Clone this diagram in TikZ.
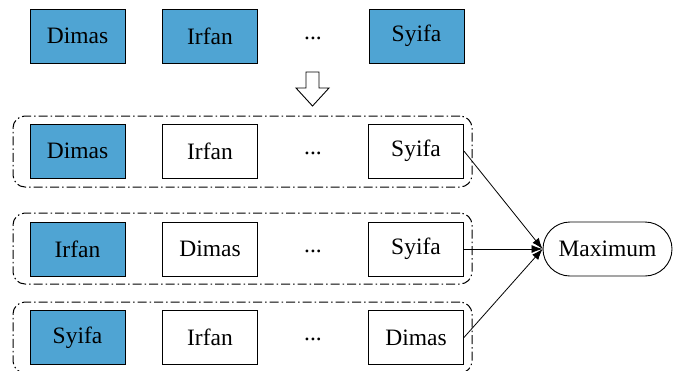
\documentclass[tikz,border=0pt]{standalone}
\usepackage{fontspec}
\setmainfont{Liberation Serif}
\usetikzlibrary{arrows.meta}
\definecolor{boxblue}{HTML}{4FA4D3}
\begin{document}
\begin{tikzpicture}[x=1pt,y=-1pt,
  cell/.style={draw=black, line width=0.9pt, minimum width=95pt, minimum height=54pt, inner sep=0pt, font=\fontsize{23.5}{28}\selectfont},
  hl/.style={cell, fill=boxblue},
  plain/.style={cell, fill=white},
  dots/.style={font=\fontsize{23.5}{28}\selectfont, inner sep=0pt},
  group/.style={draw=black, line width=1pt, dash pattern=on 9pt off 3pt on 1.5pt off 3pt, rounded corners=12pt, minimum width=459pt, minimum height=71pt, inner sep=0pt},
  conn/.style={line width=0.8pt, -{Latex[length=11pt,width=8pt]}},
  maxnode/.style={draw=black, line width=0.9pt, rounded corners=27pt, minimum width=129pt, minimum height=54pt, inner sep=0pt, font=\fontsize{23.5}{28}\selectfont},
  blockarrow/.style={draw=black, line width=0.9pt, fill=white, line join=miter}
]
\useasboundingbox (0,0) rectangle (674,370);

% containers
\node[group] (g1) at (242.5,151.5) {};
\node[group] (g2) at (242.5,248.5) {};
\node[group] (g3) at (242.5,337.5) {};

% top row
\node[hl] (t1) at (77.5,36) {Dimas};
\node[hl] (t2) at (210,36) {Irfan};
\node[dots] (t3) at (313,38) {...};
\node[hl] (t4) at (416.5,36) {Syifa};

% down arrow
\draw[blockarrow] (306,72) -- (319,72) -- (319,88) -- (329,88) -- (312.5,106) -- (296,88) -- (306,88) -- cycle;

% row 1
\node[hl] (a1) at (77.5,151) {Dimas};
\node[plain] (a2) at (210,151) {Irfan};
\node[dots] (a3) at (313,153) {...};
\node[plain] (a4) at (416,151) {Syifa};

% row 2
\node[hl] (b1) at (77.5,249) {Irfan};
\node[plain] (b2) at (210,249) {Dimas};
\node[dots] (b3) at (313,251) {...};
\node[plain] (b4) at (416,249) {Syifa};

% row 3
\node[hl] (c1) at (77.5,337.5) {Syifa};
\node[plain] (c2) at (210,337.5) {Irfan};
\node[dots] (c3) at (313,339.5) {...};
\node[plain] (c4) at (416,337.5) {Dimas};

% maximum
\node[maxnode] (m) at (607.5,249) {Maximum};

\draw[conn] (a4.east) -- (m.west);
\draw[conn] (b4.east) -- (m.west);
\draw[conn] (c4.east) -- (m.west);
\end{tikzpicture}
\end{document}
